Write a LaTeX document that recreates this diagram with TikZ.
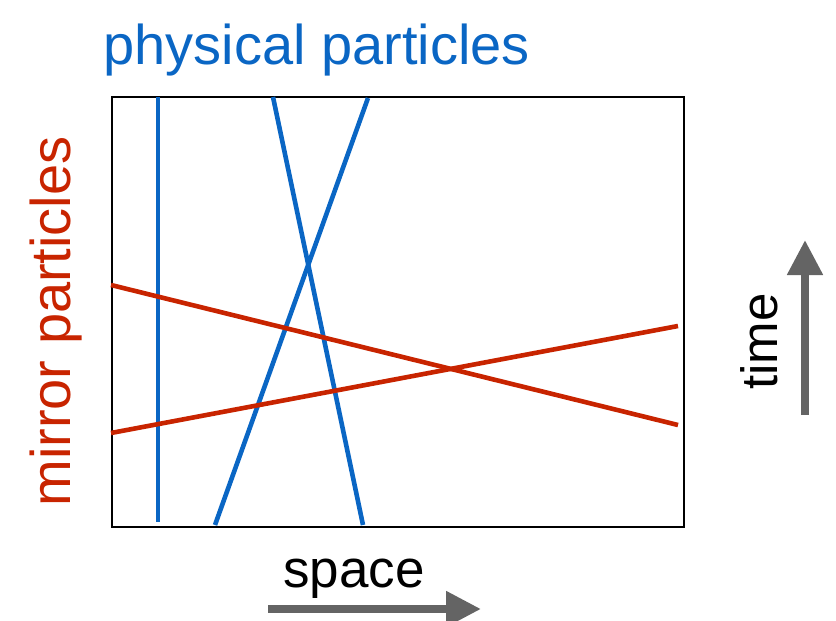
\documentclass[tikz,border=0pt]{standalone}
\usepackage{fontspec}
\setmainfont{Liberation Sans}
\usetikzlibrary{arrows.meta}
\definecolor{phys}{RGB}{10,102,196}
\definecolor{mirr}{RGB}{200,36,0}
\definecolor{arrgray}{RGB}{100,100,100}
\begin{document}
\begin{tikzpicture}[x=1pt,y=-1pt,
  frame/.style={draw=black,line width=2.2pt},
  physline/.style={draw=phys,line width=4.6pt},
  mirrline/.style={draw=mirr,line width=4.6pt},
  axisarrow/.style={draw=arrgray,line width=8pt,-{Triangle[length=35pt,width=34pt]}},
  lbl/.style={inner sep=0pt,anchor=base}]
\useasboundingbox (0,0) rectangle (836,621);
\node[frame,minimum width=572pt,minimum height=430pt,inner sep=0pt,anchor=north west] (box) at (111,96) {};
% physical particles
\coordinate (p1a) at (158,97);  \coordinate (p1b) at (158,522);
\coordinate (p2a) at (273,97);  \coordinate (p2b) at (363,525);
\coordinate (p3a) at (368,98);  \coordinate (p3b) at (215,525);
\draw[physline] (p1a) -- (p1b);
\draw[physline] (p2a) -- (p2b);
\draw[physline] (p3a) -- (p3b);
% mirror particles
\coordinate (m1a) at (111,285); \coordinate (m1b) at (678,425);
\coordinate (m2a) at (111,433); \coordinate (m2b) at (678,326);
\draw[mirrline] (m1a) -- (m1b);
\draw[mirrline] (m2a) -- (m2b);
% labels
\node[lbl,text=phys,font=\fontsize{56}{60}\selectfont] (physlbl) at (316.5,64) {physical particles};
\node[lbl,text=mirr,font=\fontsize{56}{60}\selectfont,rotate=90] (mirrlbl) at (70,321.5) {mirror particles};
\node[lbl,text=black,font=\fontsize{53}{57}\selectfont] (spacelbl) at (354,587) {space};
\node[lbl,text=black,font=\fontsize{51}{55}\selectfont,rotate=90] (timelbl) at (777,341.5) {time};
% axis arrows
\coordinate (sx0) at (268,609); \coordinate (sx1) at (481,609);
\coordinate (ty0) at (805,415); \coordinate (ty1) at (805,240);
\draw[axisarrow] (sx0) -- (sx1);
\draw[axisarrow] (ty0) -- (ty1);
\end{tikzpicture}
\end{document}
